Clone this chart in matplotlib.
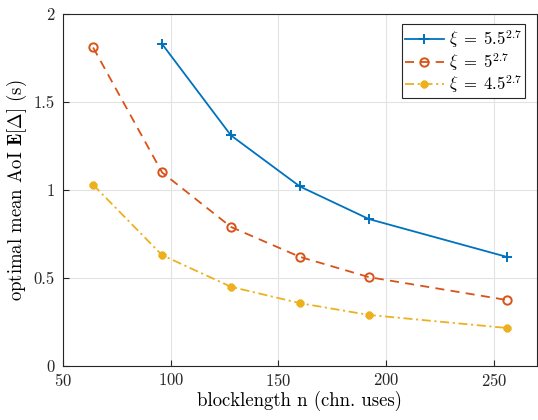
import numpy as np
import matplotlib
matplotlib.use("Agg")
import matplotlib.pyplot as plt

# data
n_blue = [96, 128, 160, 192, 256]
aoi_blue = [1.83, 1.31, 1.02, 0.835, 0.62]
n_red = [64, 96, 128, 160, 192, 256]
aoi_red = [1.81, 1.10, 0.79, 0.62, 0.505, 0.375]
n_yellow = [64, 96, 128, 160, 192, 256]
aoi_yellow = [1.03, 0.63, 0.45, 0.357, 0.29, 0.216]
labels = [r"$\xi\;=\;5.5^{2.7}$", r"$\xi\;=\;5^{2.7}$", r"$\xi\;=\;4.5^{2.7}$"]

plt.rcParams["font.family"] = "serif"
plt.rcParams["font.serif"] = ["cmr10"]
plt.rcParams["mathtext.fontset"] = "cm"
plt.rcParams["axes.formatter.use_mathtext"] = True

fig = plt.figure(figsize=(5.38, 4.2), dpi=100)
ax = fig.add_axes([0.117, 0.1286, 0.881, 0.838])

ax.plot(n_blue, aoi_blue, "-", color="#0072BD", marker="+", ms=7, mew=1.4,
        lw=1.3, label=labels[0])
ax.plot(n_red, aoi_red, color="#D95319", ls=(0, (5, 3.5)), marker="o", ms=6,
        mew=1.4, mfc="none", lw=1.3, label=labels[1])
ax.plot(n_yellow, aoi_yellow, color="#EDB120", ls=(0, (5, 2, 1.2, 2)),
        marker=(8, 2, 0), ms=5.5, mew=2.2, lw=1.3, label=labels[2])

ax.set_xlim(50, 270)
ax.set_ylim(0, 2)
ax.set_xticks([50, 100, 150, 200, 250])
ax.set_yticks([0, 0.5, 1, 1.5, 2])
ax.set_yticklabels(["0", "0.5", "1", "1.5", "2"])
ax.grid(True, color="#e3e3e3", lw=0.8)
ax.set_axisbelow(True)
ax.tick_params(direction="in", length=4, labelsize=12, colors="#262626")
ax.tick_params(axis="x", pad=4)
ax.tick_params(axis="y", pad=6)
for s in ax.spines.values():
    s.set_color("#262626")
    s.set_linewidth(0.8)

ax.set_xlabel("blocklength n (chn. uses)", fontsize=13.5, labelpad=2)
ax.set_ylabel(r"optimal mean AoI $\mathbf{E}[\Delta]$ (s)", fontsize=13.5,
              labelpad=3)

leg = ax.legend(loc="upper right", fontsize=12, fancybox=False,
                framealpha=1, edgecolor="#262626", borderpad=0.2,
                handlelength=2.3, handletextpad=0.3, labelspacing=0.0,
                borderaxespad=0.3, bbox_to_anchor=(0.985, 0.985))
leg.get_frame().set_linewidth(0.8)

fig.savefig("out.png", dpi=100)
